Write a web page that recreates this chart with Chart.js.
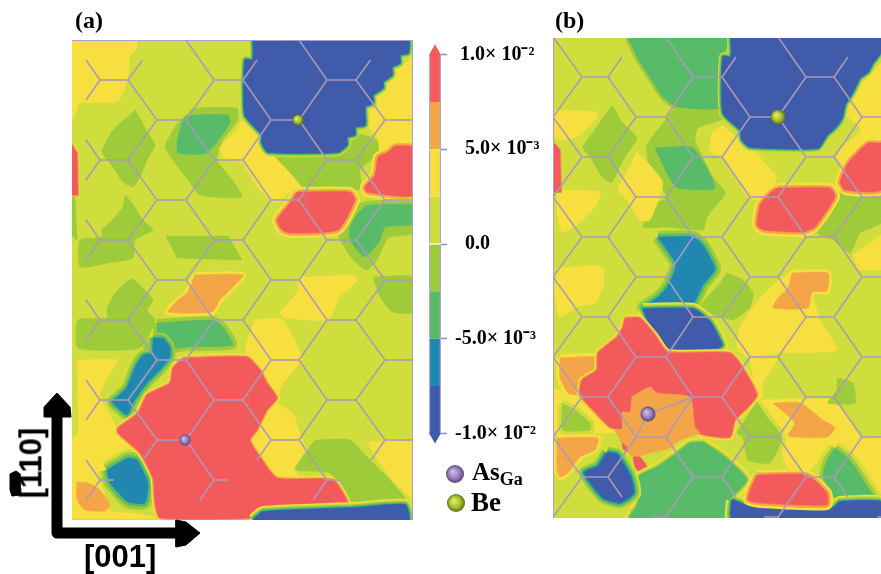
<!DOCTYPE html>
<html>
<head>
<meta charset="utf-8">
<title>Panels (a) and (b)</title>
<script src="https://cdn.jsdelivr.net/npm/chart.js@4"></script>
<style>
  body { margin: 0; background: #fff; width: 881px; height: 574px; overflow: hidden; position: relative; }
  canvas { position: absolute; filter: blur(0.6px); }
  .t { position: absolute; white-space: nowrap; color: #000; font-weight: bold; filter: blur(0.4px); }
  .serif { font-family: "Liberation Serif", serif; }
  .sans { font-family: "Liberation Sans", sans-serif; font-size: 31px; }
  sub { font-size: 18px; vertical-align: -5px; line-height: 0; }
</style>
</head>
<body>
<canvas id="panelA" width="341" height="480" style="left:72px;top:40px"></canvas>
<canvas id="panelB" width="328" height="480" style="left:553px;top:38px"></canvas>
<canvas id="scale" width="130" height="420" style="left:415px;top:34px"></canvas>
<canvas id="overlay" width="881" height="574" style="left:0;top:0"></canvas>
<div class="t serif" style="left:75px;top:7px;font-size:24px">(a)</div>
<div class="t serif" style="left:555px;top:7px;font-size:24px">(b)</div>
<div class="t serif" style="left:472px;top:458px;font-size:25px">As<sub>Ga</sub></div>
<div class="t serif" style="left:471px;top:487px;font-size:27px">Be</div>
<div class="t sans" style="left:84px;top:539px">[001]</div>
<div class="t sans" style="left:-4px;top:445px;transform:rotate(-90deg)">[110]</div>
<script>
// contour levels, index 0 = lowest band
const levelBounds = [-0.01, -0.0075, -0.005, -0.0025, 0, 0.0025, 0.005, 0.0075, 0.01];
const levelColors = ["#3f5ba9", "#2187b1", "#57bb69", "#9dcb3a", "#cfdd3d", "#f6df3f", "#f3a548", "#f25a5b"];
const tickValues = [0.01, 0.005, 0, -0.005, -0.01];
const tickLabels = ["\u00a01.0× 10⁻²", "\u00a0\u00a05.0× 10⁻³", "\u00a0\u00a00.0", "-5.0× 10⁻³", "-1.0× 10⁻²"];
const tipValues = [0.01016, -0.01016];

// [level, level reached by the rim, rim band px, outline]
const regionsA = [
  [4, 4, 0, [[72,40],[413,40],[413,520],[72,520]]],
  [5, 5, 0, [[72,40],[137,40],[136,50],[130,55],[128,78],[123,93],[117,102],[80,103],[76,112],[72,120]]],
  [5, 5, 0, [[413,57],[413,142],[397,143],[385,157],[378,152],[377,137],[365,123],[368,110],[375,95],[392,73]]],
  [5, 5, 0, [[298,278],[353,275],[358,280],[340,297],[328,320],[283,317],[280,312],[297,293]]],
  [5, 5, 0, [[255,320],[272,318],[283,320],[302,358],[282,385],[278,403],[293,413],[302,440],[307,450],[295,470],[300,478],[270,478],[250,440],[257,430],[267,410],[277,398],[267,383],[255,365],[245,350]]],
  [5, 5, 0, [[77,360],[118,360],[110,373],[100,393],[103,403],[117,427],[118,433],[140,453],[125,450],[107,460],[103,483],[110,510],[133,513],[157,518],[72,518],[72,440],[78,433]]],
  [5, 5, 0, [[367,442],[413,442],[413,500],[405,493],[392,480],[380,463]]],
  [3, 3, 0, [[135,110],[140,118],[147,132],[155,145],[147,160],[140,177],[133,187],[123,182],[115,170],[110,163],[102,152],[112,132],[120,123],[130,115]]],
  [3, 3, 0, [[193,108],[237,108],[238,120],[223,140],[217,160],[230,177],[242,197],[200,195],[188,180],[173,160],[165,147],[175,127]]],
  [3, 3, 0, [[125,195],[132,203],[143,220],[153,230],[135,240],[133,258],[108,263],[80,267],[80,240],[102,237],[102,230],[115,217],[123,207]]],
  [3, 3, 0, [[72,197],[75,197],[77,240],[72,235]]],
  [3, 3, 0, [[166,236],[228,236],[242,260],[177,258]]],
  [3, 3, 0, [[270,152],[340,152],[345,147],[353,133],[377,140],[378,153],[360,170],[362,187],[357,190],[303,187],[290,173]]],
  [3, 3, 0, [[383,200],[413,202],[413,233],[388,238],[377,260],[367,270],[353,260],[337,233],[343,220],[360,203]]],
  [3, 3, 0, [[115,293],[125,283],[133,279],[153,300],[147,310],[155,320],[140,348],[78,348],[78,320],[107,318],[107,308]]],
  [3, 3, 0, [[315,440],[350,440],[370,460],[390,480],[407,503],[353,505],[343,490],[330,473],[295,470],[300,460]]],
  [3, 3, 0, [[373,277],[413,277],[413,312],[393,312],[380,297]]],
  [5, 5, 0, [[242,120],[260,137],[270,152],[290,173],[303,190],[290,192],[278,203],[270,200],[257,187],[242,163],[223,157],[220,147],[235,132]]],
  [2, 2, 0, [[177,142],[185,117],[228,115],[230,123],[207,153],[178,153]]],
  [2, 2, 0, [[367,205],[413,205],[413,224],[385,227],[380,240],[365,257],[350,240],[350,227],[358,213]]],
  [2, 3, 4, [[157,323],[213,320],[223,327],[233,345],[187,347],[170,350],[157,360],[147,347],[157,337]]],
  [1, 3, 2.5, [[153,338],[163,338],[170,347],[170,357],[160,370],[147,383],[133,403],[127,415],[112,402],[117,397],[127,387],[135,367],[143,355],[152,353]]],
  [1, 4, 3, [[107,470],[128,458],[137,460],[148,483],[145,503],[128,502],[110,483]]],
  [6, 6, 0, [[77,482],[88,483],[100,490],[110,505],[105,511],[85,510],[77,500]]],
  [6, 5, 3, [[195,275],[243,275],[233,287],[220,300],[212,312],[168,312],[178,300],[187,293]]],
  [7, 6, 1, [[72,145],[77,153],[78,195],[72,195]]],
  [0, 4, 1, [[253,40],[408,40],[408,53],[400,55],[400,63],[392,67],[392,75],[383,82],[383,88],[373,95],[373,103],[365,107],[365,125],[355,127],[355,135],[347,137],[347,145],[338,152],[268,152],[262,143],[262,135],[245,115],[245,60],[253,60]]],
  [7, 5, 2.5, [[413,146],[413,195],[367,192],[365,187],[375,175],[378,157],[388,152],[395,146]]],
  [7, 5, 2.5, [[297,192],[350,192],[355,200],[338,230],[290,233],[282,230],[277,220],[290,203]]],
  [7, 5, 1.5, [[183,358],[247,357],[260,370],[267,383],[277,398],[267,410],[257,430],[250,440],[260,457],[277,478],[333,480],[348,503],[343,507],[263,508],[250,518],[160,518],[155,503],[153,478],[140,453],[118,433],[118,428],[138,413],[147,395],[170,383],[173,368]]],
  [0, 5, 1.2, [[253,520],[263,512],[353,508],[405,505],[408,520]]]
];

const regionsB = [
  [4, 4, 0, [[553,38],[881,38],[881,518],[553,518]]],
  [5, 5, 0, [[555,110],[595,112],[597,118],[577,137],[560,140],[555,137]]],
  [5, 5, 0, [[557,190],[600,192],[595,207],[575,227],[562,232],[557,213]]],
  [5, 5, 0, [[557,268],[603,267],[603,287],[595,303],[577,307],[560,317],[555,297]]],
  [5, 5, 0, [[553,387],[583,403],[610,428],[615,433],[597,433],[553,433]]],
  [5, 5, 0, [[881,63],[881,143],[868,142],[855,153],[845,165],[835,155],[861,130],[845,113],[855,92]]],
  [5, 5, 0, [[853,255],[881,235],[881,270],[858,270]]],
  [5, 5, 0, [[770,287],[793,270],[800,270],[817,310],[820,320],[837,350],[780,353],[748,357],[737,348],[740,327],[753,307]]],
  [5, 5, 0, [[757,400],[833,400],[860,437],[840,443],[817,463],[807,473],[787,467],[777,437],[770,417]]],
  [5, 5, 0, [[750,358],[777,358],[763,383],[763,398],[757,398]]],
  [5, 5, 0, [[881,437],[881,497],[865,475],[840,443],[862,437]]],
  [3, 3, 0, [[673,110],[722,108],[725,118],[698,128],[695,140],[713,177],[725,193],[707,217],[703,230],[667,227],[643,227],[657,203],[667,197],[650,170],[647,145],[667,118]]],
  [3, 3, 0, [[612,105],[623,123],[637,138],[623,160],[612,182],[603,178],[590,157],[583,147],[597,127]]],
  [3, 3, 0, [[842,190],[881,192],[881,223],[860,233],[850,253],[833,240],[817,233],[833,207]]],
  [3, 3, 0, [[727,273],[743,280],[753,293],[750,307],[733,320],[725,318],[700,308],[720,283]]],
  [3, 3, 0, [[837,378],[853,383],[855,403],[828,403],[837,390]]],
  [3, 4, 4, [[562,403],[575,410],[590,423],[590,430],[563,430]]],
  [3, 4, 4, [[757,402],[767,417],[782,437],[770,463],[748,460],[743,437],[737,433],[747,417]]],
  [5, 5, 0, [[637,152],[648,163],[663,183],[650,220],[640,220],[627,200],[618,190],[628,170]]],
  [5, 5, 0, [[722,125],[740,140],[753,150],[777,178],[770,190],[760,200],[748,197],[737,180],[722,157],[710,152],[712,133]]],
  [2, 3, 3, [[628,38],[730,38],[722,57],[722,107],[677,107],[663,97],[647,73],[637,57]]],
  [2, 2, 0, [[655,148],[693,148],[715,188],[677,188],[668,175]]],
  [2, 4, 3.5, [[835,448],[850,460],[868,487],[875,500],[837,500],[823,477],[827,460]]],
  [1, 3, 3, [[658,237],[693,237],[703,245],[713,263],[715,270],[703,285],[690,308],[643,308],[658,297],[667,287],[675,270],[675,262]]],
  [6, 5, 3, [[792,273],[828,273],[827,291],[812,292],[808,308],[773,308],[778,298],[788,288]]],
  [6, 5, 3, [[773,403],[800,403],[823,420],[835,428],[827,437],[788,436],[795,423]]],
  [6, 5, 4, [[560,358],[597,357],[597,368],[582,378],[580,395],[568,393],[560,377]]],
  [6, 5, 3, [[557,438],[598,438],[595,450],[580,457],[568,473],[560,477],[557,470]]],
  [7, 6, 1, [[553,142],[560,150],[561,192],[553,192]]],
  [0, 4, 1, [[731,38],[881,38],[881,52],[873,63],[868,72],[860,78],[853,92],[845,105],[842,118],[835,128],[827,135],[818,148],[750,147],[742,140],[740,130],[723,113],[723,57],[731,57]]],
  [7, 5, 2.5, [[881,143],[881,190],[845,190],[840,182],[848,163],[858,152],[868,143]]],
  [7, 5, 2.5, [[777,188],[830,188],[835,197],[815,227],[803,232],[763,230],[757,225],[760,205],[770,193]]],
  [0, 5, 1.2, [[643,309],[693,309],[710,322],[722,345],[717,348],[673,350],[667,348],[655,335]]],
  [7, 5, 1.5, [[625,318],[640,318],[655,335],[668,352],[730,353],[743,368],[757,395],[748,407],[735,420],[730,437],[698,433],[690,417],[690,398],[658,393],[650,387],[632,397],[630,413],[622,412],[622,429],[610,427],[593,410],[580,395],[582,380],[597,370],[598,353],[617,337],[623,327]]],
  [6, 6, 0, [[632,397],[650,387],[655,393],[690,397],[695,427],[700,433],[680,440],[670,448],[650,453],[633,457],[627,450],[622,443],[615,430],[622,429],[622,412],[630,412]]],
  [7, 7, 0, [[633,457],[640,457],[647,467],[642,475],[635,467]]],
  [7, 7, 0, [[622,443],[627,447],[627,452],[623,449]]],
  [2, 5, 1.5, [[703,442],[725,457],[747,480],[730,500],[730,518],[630,518],[638,503],[638,477],[657,467],[677,453],[690,443]]],
  [0, 4, 2, [[607,453],[617,455],[630,477],[633,493],[620,502],[603,497],[585,473],[598,467]]],
  [0, 5, 1.2, [[732,500],[753,507],[833,508],[840,502],[881,502],[881,518],[732,518]]],
  [7, 5, 2.5, [[757,475],[807,475],[827,493],[827,505],[760,503],[748,500],[750,490]]]
];

// hexagon lattice: horizontal bonds per column, rows given by y
const hexA = [
  { xl: 100, xr: 128, ys: [80,160,240,320,400], leftOnly: [480], rightOnly: [] },
  { xl: 157, xr: 186, ys: [120,200,280,360,440], leftOnly: [], rightOnly: [40] },
  { xl: 214, xr: 243, ys: [80,160,240,320,400], leftOnly: [480], rightOnly: [] },
  { xl: 271, xr: 299, ys: [120,200,280,360,440], leftOnly: [], rightOnly: [40] },
  { xl: 327, xr: 356, ys: [80,160,240,320,400], leftOnly: [480], rightOnly: [] },
  { xl: 385, xr: 414, ys: [120,200,280,360,440], leftOnly: [], rightOnly: [40] }
];
const hexB = [
  { xl: 526, xr: 553, ys: [117,197,277,357,437], leftOnly: [], rightOnly: [37,517] },
  { xl: 582, xr: 608, ys: [77,157,237,317,397,477], leftOnly: [], rightOnly: [] },
  { xl: 636, xr: 666, ys: [117,197,277,357,437], leftOnly: [], rightOnly: [37,517] },
  { xl: 693, xr: 722, ys: [77,157,237,317,397,477], leftOnly: [], rightOnly: [] },
  { xl: 750, xr: 778, ys: [117,197,277,357,437], leftOnly: [], rightOnly: [37,517] },
  { xl: 806, xr: 834, ys: [77,157,237,317,397,477], leftOnly: [], rightOnly: [] },
  { xl: 862, xr: 891, ys: [117,197,277,357,437], leftOnly: [], rightOnly: [37,517] }
];
const hexGapsB = ["666,437,693,477"];
const extraBondsB = [[[648,414],[693,397]], [[636,437],[648,414]]];
const frameA = [[72,40],[413,40],[413,520]];
const frameB = [[553,38],[553,518]];

const atomsA = [{ x: 185, y: 440, r: 5.5, kind: "As" }, { x: 298, y: 120, r: 5.5, kind: "Be" }];
const atomsB = [{ x: 648, y: 414, r: 7.5, kind: "As" }, { x: 778, y: 117, r: 7.5, kind: "Be" }];
const legendAtoms = [{ x: 455, y: 474, r: 9, kind: "As" }, { x: 456, y: 503, r: 9, kind: "Be" }];

// crystal direction arrows
const arrowStem = [[57,403],[57,533],[180,533]];
const arrowHeadUp = [[57,393],[70,407],[71,417],[44,417],[44,407]];
const arrowHeadRight = [[200,533],[186,522],[176,520],[176,547],[186,545]];
const bracketSmudge = [[10,474],[16,471],[20,474],[20,495],[12,496],[10,490]];

const sphereShades = {
  As: ["#d9c6ee", "#9a7fc2", "#584678"],
  Be: ["#e6ee70", "#a9c22e", "#566f1c"]
};

const toPts = (arr) => arr.map(([x, y]) => ({ x, y }));

function polygonDatasets([level, rimLevel, band, outline]) {
  const closed = toPts(outline.concat([outline[0]]));
  const out = [];
  const step = rimLevel > level ? 1 : -1;
  const count = Math.abs(rimLevel - level);
  const tension = outline.length > 4 ? 0.18 : 0; // softens the contour corners
  for (let i = count; i >= 1; i--) {
    out.push({
      data: closed, showLine: true, pointRadius: 0, fill: false, tension,
      borderColor: levelColors[level + i * step], borderWidth: 2 * i * band, borderJoinStyle: "round"
    });
  }
  out.push({
    data: closed, showLine: true, pointRadius: 0, fill: "shape", tension,
    backgroundColor: levelColors[level], borderColor: levelColors[level], borderWidth: 0.5
  });
  return out;
}

function hexSegments(cols, gaps) {
  const pts = [];
  const seg = (x0, y0, x1, y1) => pts.push({ x: x0, y: y0 }, { x: x1, y: y1 }, { x: NaN, y: NaN });
  cols.forEach((c, j) => {
    c.ys.forEach((y) => seg(c.xl, y, c.xr, y));
    c.leftOnly.forEach((y) => seg(c.xl, y, c.xl + 14, y));
    c.rightOnly.forEach((y) => seg(c.xr - 14, y, c.xr, y));
    const next = cols[j + 1];
    const prev = cols[j - 1];
    const rights = c.ys.concat(c.rightOnly);
    const lefts = c.ys.concat(c.leftOnly);
    [-40, 40].forEach((dy) => {
      if (next) {
        rights.forEach((y) => {
          const linked = next.ys.concat(next.leftOnly).includes(y + dy) && !gaps.includes(`${c.xr},${y},${next.xl},${y + dy}`);
          if (linked) seg(c.xr, y, next.xl, y + dy);
          else seg(c.xr, y, (c.xr + next.xl) / 2, y + dy / 2);
        });
      }
      lefts.forEach((y) => {
        const prevRights = prev ? prev.ys.concat(prev.rightOnly) : [];
        const gapKey = prev ? `${prev.xr},${y + dy},${c.xl},${y}` : "";
        if (!prevRights.includes(y + dy) || gaps.includes(gapKey)) {
          seg(c.xl, y, c.xl - 14, y + dy / 2);
        }
      });
    });
  });
  return pts;
}

function sphereFill(c, kind) {
  const [lit, mid, dark] = sphereShades[kind];
  if (!c.raw) return mid;
  const px = c.chart.scales.x.getPixelForValue(c.raw.x);
  const py = c.chart.scales.y.getPixelForValue(c.raw.y);
  if (!isFinite(px) || !isFinite(py)) return mid;
  const r = c.raw.r;
  const g = c.chart.ctx.createRadialGradient(px - r * 0.3, py - r * 0.3, 0, px, py, r);
  g.addColorStop(0, lit);
  g.addColorStop(0.6, mid);
  g.addColorStop(1, dark);
  return g;
}

function atomDataset(atoms) {
  return {
    data: atoms,
    pointRadius: (c) => (c.raw ? c.raw.r : 0),
    pointBorderWidth: 0,
    pointBackgroundColor: (c) => sphereFill(c, c.raw ? c.raw.kind : "As")
  };
}

function plainOptions(xMin, xMax, yMin, yMax) {
  return {
    responsive: false,
    animation: false,
    events: [],
    layout: { padding: 0, autoPadding: false },
    plugins: { legend: { display: false }, tooltip: { enabled: false } },
    scales: {
      x: { type: "linear", display: false, min: xMin, max: xMax },
      y: { type: "linear", display: false, min: yMin, max: yMax, reverse: true }
    }
  };
}

function drawPanel(id, regions, hex, gaps, extras, frame, atoms, xMin, xMax, yMin, yMax) {
  const bottomUp = regions.flatMap(polygonDatasets);
  const bondColor = "#ab9ab9";
  bottomUp.push({ data: toPts(frame), showLine: true, pointRadius: 0, borderColor: "#a7a0d6", borderWidth: 2 });
  bottomUp.push({ data: hexSegments(hex, gaps), showLine: true, spanGaps: false, pointRadius: 0, borderColor: bondColor, borderWidth: 1.5 });
  extras.forEach((b) => bottomUp.push({ data: toPts(b), showLine: true, pointRadius: 0, borderColor: bondColor, borderWidth: 1.5 }));
  bottomUp.push(atomDataset(atoms));
  // Chart.js paints the first dataset last
  return new Chart(document.getElementById(id), {
    type: "scatter",
    data: { datasets: bottomUp.reverse() },
    options: plainOptions(xMin, xMax, yMin, yMax)
  });
}

drawPanel("panelA", regionsA, hexA, [], [], frameA, atomsA, 72, 413, 40, 520);
drawPanel("panelB", regionsB, hexB, hexGapsB, extraBondsB, frameB, atomsB, 553, 881, 38, 518);

// colour scale
const barSets = levelColors.map((color, i) => ({
  data: [[levelBounds[i], levelBounds[i + 1]]],
  backgroundColor: color,
  borderColor: "#a9a6de",
  borderWidth: { left: 1.5, right: 1.5 },
  borderSkipped: false,
  grouped: false,
  barPercentage: 1,
  categoryPercentage: 1
}));
const tipSets = tipValues.map((v, i) => ({
  type: "line",
  data: [v],
  showLine: false,
  pointStyle: "triangle",
  pointRadius: 7,
  pointRotation: i === 0 ? 0 : 180,
  pointBorderWidth: 0,
  pointBackgroundColor: levelColors[i === 0 ? 7 : 0]
}));
new Chart(document.getElementById("scale"), {
  type: "bar",
  data: { labels: [""], datasets: tipSets.concat(barSets) },
  options: {
    responsive: false,
    animation: false,
    events: [],
    layout: { padding: { left: 14, top: 10, bottom: 10 }, autoPadding: false },
    plugins: { legend: { display: false }, tooltip: { enabled: false } },
    scales: {
      x: { display: false },
      y: {
        position: "right",
        min: -0.01056,
        max: 0.01056,
        afterBuildTicks: (axis) => { axis.ticks = tickValues.map((value) => ({ value })); },
        afterFit: (axis) => { axis.width = 104; axis.paddingTop = 0; axis.paddingBottom = 0; },
        grid: { drawOnChartArea: false, tickLength: 6, color: "#8b88d8", tickWidth: 1.5 },
        border: { display: false },
        ticks: {
          padding: 8,
          color: "#000",
          font: { family: "'Liberation Serif', serif", weight: "bold", size: 20 },
          callback: (v) => tickLabels[tickValues.indexOf(v)]
        }
      }
    }
  }
});

// arrows and legend spheres over the whole page
new Chart(document.getElementById("overlay"), {
  type: "scatter",
  data: {
    datasets: [
      atomDataset(legendAtoms),
      { data: toPts(arrowStem), showLine: true, pointRadius: 0, borderColor: "#000", borderWidth: 11, borderJoinStyle: "round" },
      ...[arrowHeadUp, arrowHeadRight, bracketSmudge].map((p) => ({
        data: toPts(p.concat([p[0]])), showLine: true, pointRadius: 0, fill: "shape",
        backgroundColor: "#000", borderColor: "#000", borderWidth: 1
      }))
    ]
  },
  options: plainOptions(0, 881, 0, 574)
});
</script>
</body>
</html>
